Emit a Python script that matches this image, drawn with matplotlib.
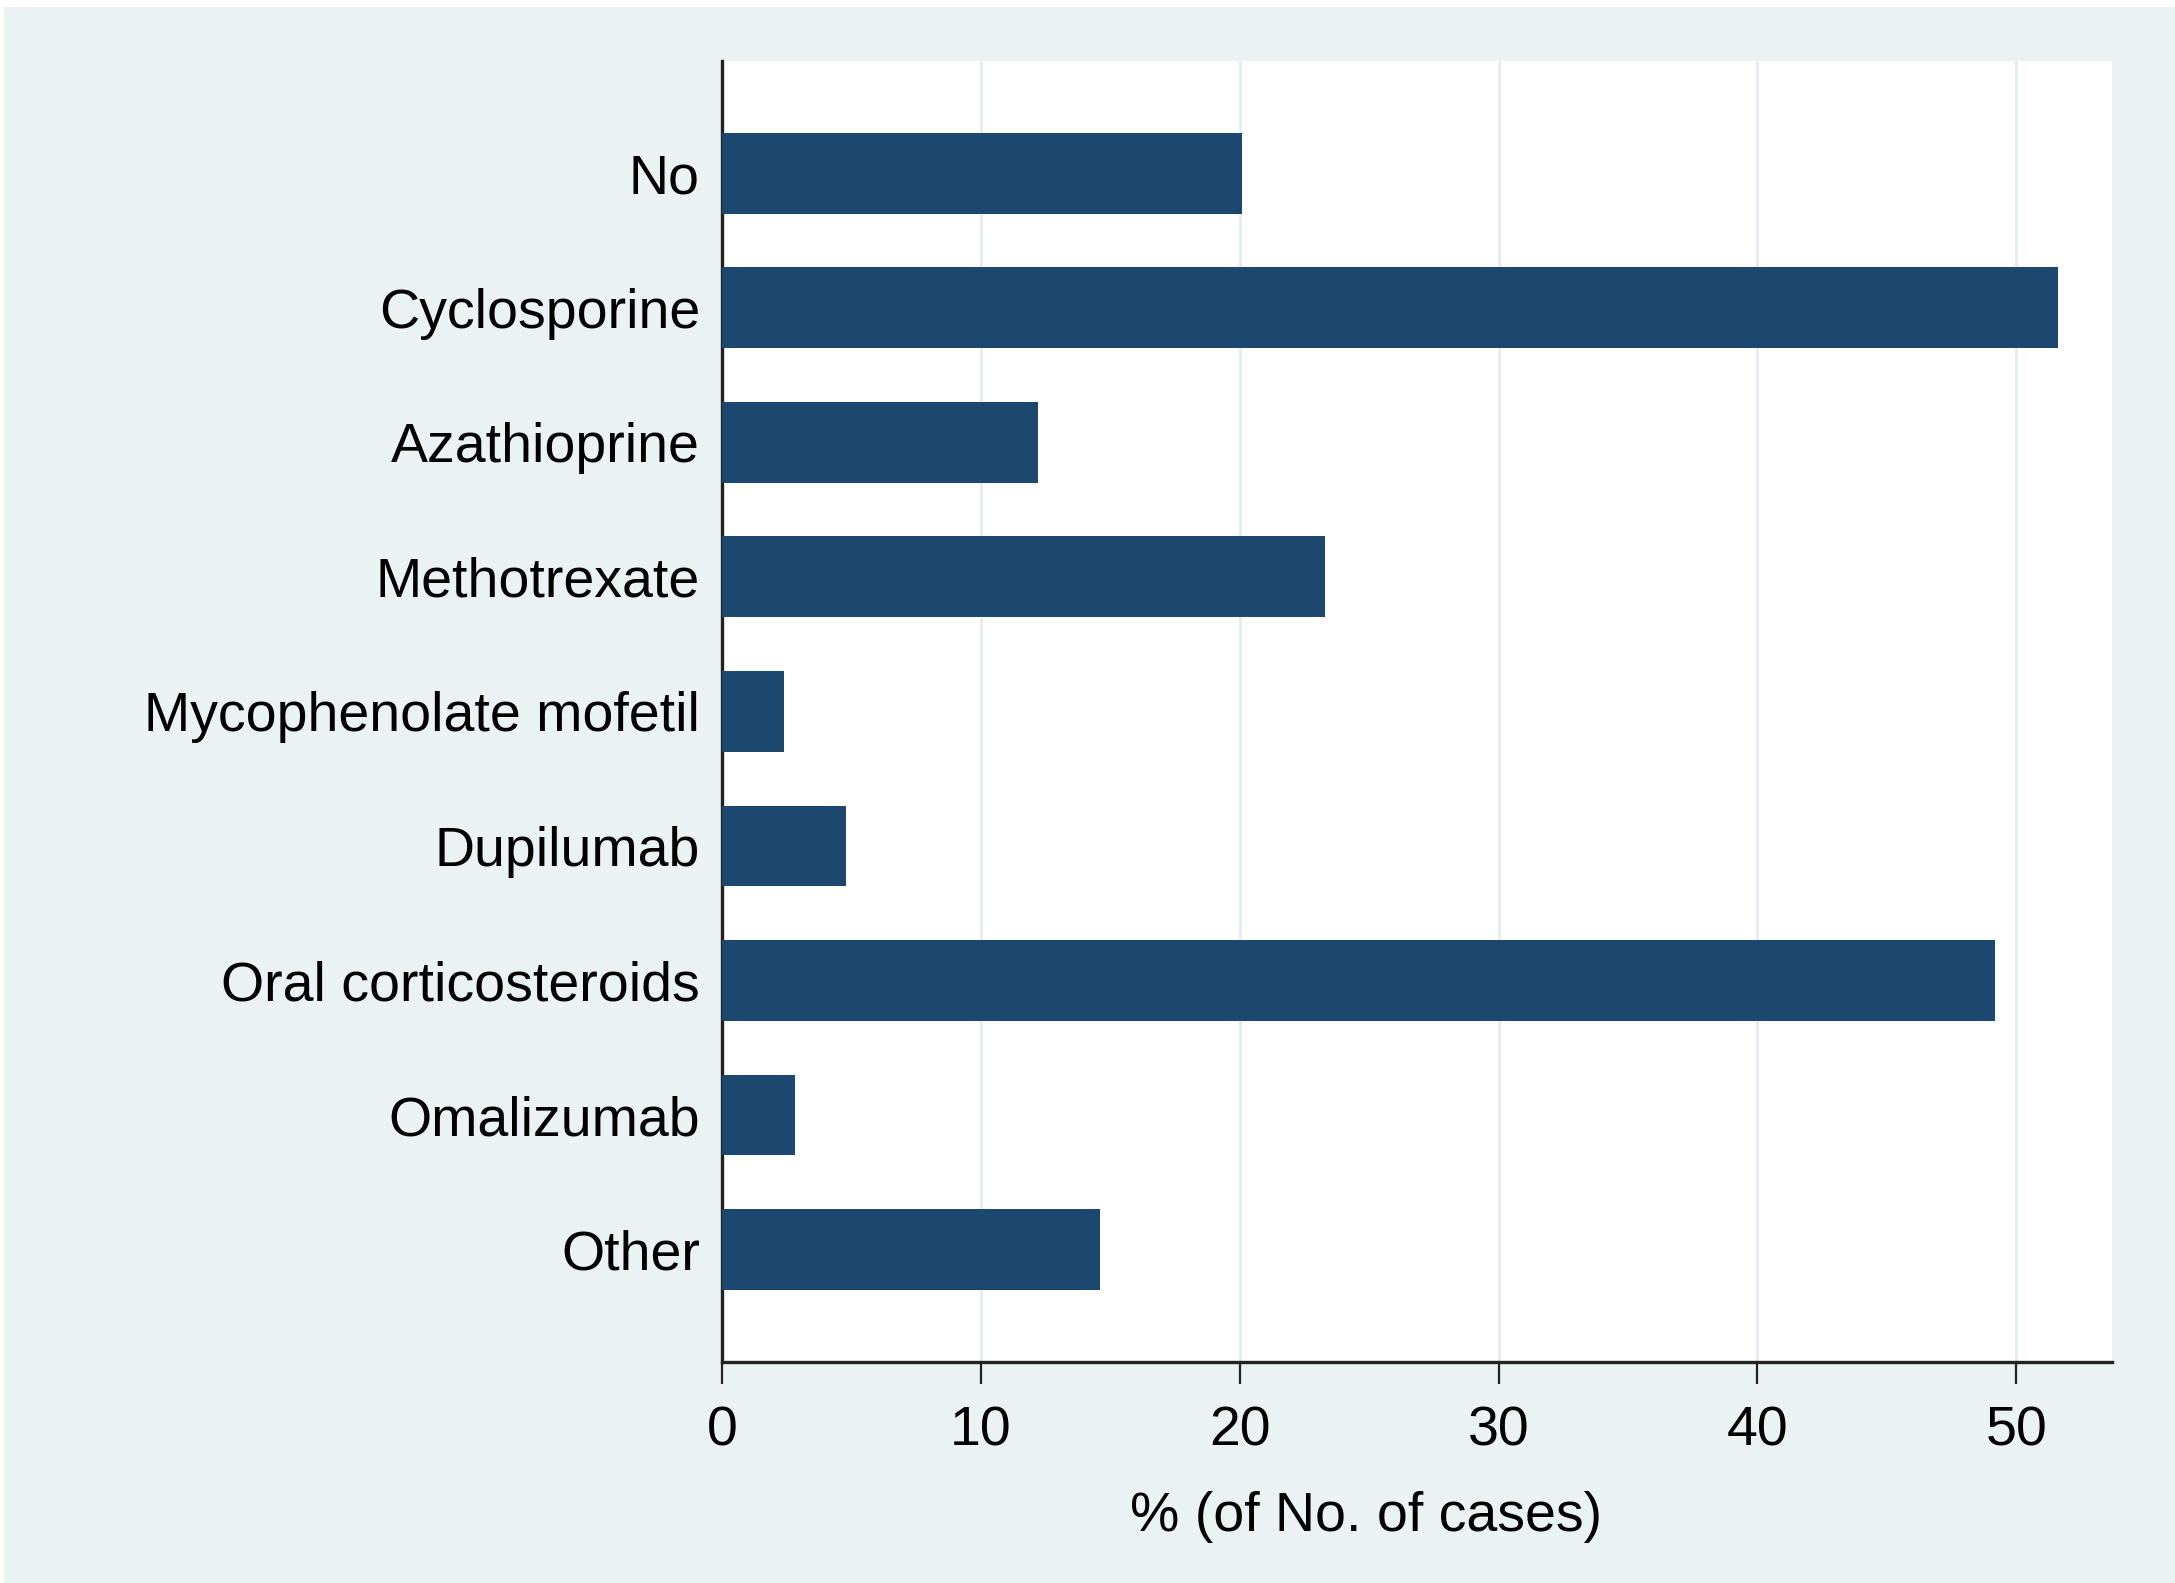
import matplotlib
matplotlib.use("Agg")
import matplotlib.pyplot as plt
from matplotlib.patches import Rectangle

categories = ["No", "Cyclosporine", "Azathioprine", "Methotrexate",
              "Mycophenolate mofetil", "Dupilumab", "Oral corticosteroids",
              "Omalizumab", "Other"]
percent = [20.1, 51.6, 12.2, 23.3, 2.4, 4.8, 49.2, 2.8, 14.6]
xticks = [0, 10, 20, 30, 40, 50]

bg = "#eaf2f3"
bar_color = "#1c476f"
grid_color = "#e3edf0"

plt.rcParams['font.family'] = ['Liberation Sans', 'DejaVu Sans']

fig = plt.figure(figsize=(21.75, 15.83), dpi=100, facecolor="white")
# bluish page with a thin white edge on top/left like the scan
fig.patches.append(Rectangle((4 / 2175, 0), 1, 1 - 7 / 1583, transform=fig.transFigure,
                             facecolor=bg, edgecolor="none", zorder=-10))

ax = fig.add_axes([0.332, 0.1396, 0.639, 0.822])
ax.set_facecolor("white")

pos = list(range(len(categories)))
ax.barh(pos, percent, height=0.6, color=bar_color, zorder=3)

ax.set_ylim(len(categories) - 1 + 0.835, -0.835)
ax.set_xlim(0, 53.7)
ax.set_yticks(pos)
ax.set_yticklabels(categories, fontsize=40)
ax.set_xticks(xticks)
ax.set_xticklabels([str(t) for t in xticks], fontsize=40)
ax.tick_params(axis='y', length=0, pad=16)
ax.tick_params(axis='x', length=16, width=1.6, pad=15, color="#222222")

ax.grid(axis='x', color=grid_color, linewidth=2, zorder=0)
for s in ["top", "right"]:
    ax.spines[s].set_visible(False)
for s in ["left", "bottom"]:
    ax.spines[s].set_linewidth(2.4)
    ax.spines[s].set_color("#222222")

ax.set_xlabel("% (of No. of cases)", fontsize=40)
ax.xaxis.set_label_coords(0.463, -0.099)

fig.savefig("out.png", dpi=100, facecolor=fig.get_facecolor())
